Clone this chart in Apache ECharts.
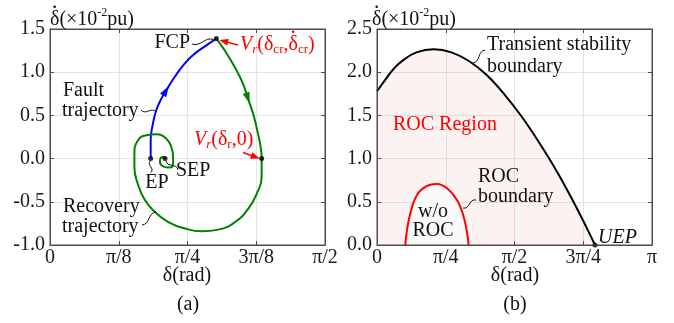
<!DOCTYPE html>
<html><head><meta charset="utf-8">
<script src="https://cdn.jsdelivr.net/npm/echarts@6/dist/echarts.min.js"></script>
<style>html,body{margin:0;padding:0;background:#fff}#c{width:674px;height:323px}</style>
</head><body><div id="c"></div>
<script>
const PI = Math.PI;
// ---------- Panel (a) ----------
const xTickLabelsA = ['0', 'π/8', 'π/4', '3π/8', 'π/2'];
const faultDelta = [0.575, 0.575, 0.588, 0.607, 0.636, 0.664, 0.712, 0.769, 0.827, 0.893, 0.950];
const faultOmega = [0, 0.212, 0.405, 0.559, 0.694, 0.790, 0.944, 1.100, 1.215, 1.311, 1.389];
const recoveryDelta = [0.950, 0.998, 1.055, 1.102, 1.131, 1.160, 1.188, 1.203, 1.209, 1.209, 1.181, 1.133, 1.057, 0.961, 0.867, 0.771, 0.676, 0.600, 0.543, 0.501, 0.482, 0.482, 0.503, 0.550, 0.607, 0.664, 0.693, 0.703, 0.703, 0.685, 0.647, 0.628, 0.634, 0.653, 0.657];
const recoveryOmega = [1.389, 1.253, 1.060, 0.868, 0.694, 0.521, 0.289, 0.134, 0, -0.213, -0.405, -0.579, -0.734, -0.822, -0.841, -0.810, -0.734, -0.618, -0.483, -0.289, -0.097, 0.058, 0.212, 0.270, 0.281, 0.231, 0.134, 0.019, -0.058, -0.104, -0.089, -0.039, 0.012, 0.019, 0];
const pointDeltaA = [0.575, 0.657, 0.950, 1.209];   // EP, SEP, FCP, Vr(δr,0)
const pointOmegaA = [0, 0, 1.389, 0];

// ---------- Panel (b) ----------
const xTickLabelsB = ['0', 'π/4', 'π/2', '3π/4', 'π'];
const boundaryDelta = [0, 0.1, 0.2, 0.3, 0.45, 0.65, 0.85, 1.05, 1.25, 1.45, 1.65, 1.85, 2.05, 2.25, 2.40, 2.49];
const boundaryOmega = [1.78, 1.92, 2.05, 2.14, 2.23, 2.265, 2.23, 2.13, 1.97, 1.75, 1.49, 1.19, 0.86, 0.49, 0.19, 0];
const rocDelta = [0.323, 0.343, 0.381, 0.457, 0.571, 0.685, 0.800, 0.914, 0.990, 1.036, 1.047];
const rocOmega = [0, 0.174, 0.367, 0.579, 0.683, 0.706, 0.656, 0.521, 0.328, 0.096, 0];
const uepDelta = [2.49];
const uepOmega = [0];

const zip = (a, b) => a.map((v, i) => [v, b[i]]);
const FONT = 'Liberation Serif';
const FS = 20;
const AX = '#4d4d4d';

function xAxisPair(gi, max, interval, labels) {
  const base = {
    type: 'value', gridIndex: gi, min: 0, max: max, interval: interval,
    axisLine: {show: true, onZero: false, lineStyle: {color: AX, width: 1}},
    axisTick: {show: true, inside: true, length: 4, lineStyle: {color: AX}},
    splitLine: {show: true, lineStyle: {color: '#e4e4e4', width: 1}}
  };
  return [
    Object.assign({}, base, {position: 'bottom',
      axisLabel: {show: true, margin: 3, fontFamily: FONT, fontSize: FS, color: '#1a1a1a',
        formatter: v => labels[Math.round(v / interval)]}}),
    Object.assign({}, base, {position: 'top', axisLabel: {show: false}, splitLine: {show: false}})
  ];
}
function yAxisPair(gi, min, max) {
  const base = {
    type: 'value', gridIndex: gi, min: min, max: max, interval: 0.5,
    axisLine: {show: true, onZero: false, lineStyle: {color: AX, width: 1}},
    axisTick: {show: true, inside: true, length: 4, lineStyle: {color: AX}},
    splitLine: {show: true, lineStyle: {color: '#e4e4e4', width: 1}}
  };
  return [
    Object.assign({}, base, {position: 'left',
      axisLabel: {show: true, margin: 5, fontFamily: FONT, fontSize: FS, color: '#1a1a1a',
        formatter: v => v.toFixed(1)}}),
    Object.assign({}, base, {position: 'right', axisLabel: {show: false}, splitLine: {show: false}})
  ];
}

const chart = echarts.init(document.getElementById('c'), null, {renderer: 'canvas'});

chart.setOption({
  animation: false,
  grid: [
    {left: 50, right: 349, top: 29, bottom: 78, show: false},
    {left: 377, right: 22, top: 29, bottom: 78, show: false}
  ],
  xAxis: [...xAxisPair(0, PI / 2, PI / 8, xTickLabelsA), ...xAxisPair(1, PI, PI / 4, xTickLabelsB)],
  yAxis: [...yAxisPair(0, -1, 1.5), ...yAxisPair(1, 0, 2.5)],
  series: [
    {type: 'line', xAxisIndex: 0, yAxisIndex: 0, data: zip(faultDelta, faultOmega), smooth: 0.5,
      showSymbol: false, lineStyle: {color: '#0000ff', width: 2}, z: 3},
    {type: 'line', xAxisIndex: 0, yAxisIndex: 0, data: zip(recoveryDelta, recoveryOmega), smooth: 0.5,
      showSymbol: false, lineStyle: {color: '#008000', width: 2}, z: 3},
    {type: 'scatter', xAxisIndex: 0, yAxisIndex: 0, symbolSize: 5, itemStyle: {color: '#000'},
      data: zip(pointDeltaA, pointOmegaA), z: 5},
    {type: 'line', xAxisIndex: 2, yAxisIndex: 2, data: zip(boundaryDelta, boundaryOmega), smooth: 0.4,
      showSymbol: false, lineStyle: {color: '#000', width: 2}, areaStyle: {color: 'rgba(238,130,130,0.15)'}, z: 3},
    {type: 'line', xAxisIndex: 2, yAxisIndex: 2, data: zip(rocDelta, rocOmega), smooth: 0.4,
      showSymbol: false, lineStyle: {color: '#ff0000', width: 2}, areaStyle: {color: '#f9f9f9', opacity: 1}, z: 4},
    {type: 'scatter', xAxisIndex: 2, yAxisIndex: 2, symbolSize: 5, itemStyle: {color: '#000'},
      data: zip(uepDelta, uepOmega), z: 5}
  ]
});

// ---------- annotations ----------
const mctx = document.createElement('canvas').getContext('2d');
function fontStr(fs, it) { return (it ? 'italic ' : '') + fs + 'px "' + FONT + '"'; }
function measure(t, fs, it) { mctx.font = fontStr(fs, it); return mctx.measureText(t).width; }
function T(x, y, text, o) {
  o = o || {};
  return {type: 'text', x: x, y: y, z: 20, style: {text: text, font: fontStr(o.fs || FS, o.it),
    fill: o.fill || '#111', align: o.align || 'left', verticalAlign: 'middle'}};
}
function seq(x, y, parts, col) {
  const out = [];
  let cx = x;
  parts.forEach(p => {
    const fs = p.fs || FS;
    out.push({type: 'text', x: cx, y: y + (p.dy || 0), z: 20,
      style: {text: p.t, font: fontStr(fs, p.it), fill: col, align: 'left', verticalAlign: 'middle'}});
    const w = measure(p.t, fs, p.it);
    if (p.dot !== undefined) {
      const dw = measure(p.t.slice(0, p.dot), fs, p.it);
      const gw = measure(p.t[p.dot], fs, p.it);
      out.push({type: 'circle', z: 21, shape: {cx: cx + dw + gw * 0.5, cy: y - fs * 0.66, r: 1.3}, style: {fill: col}});
    }
    cx += w;
  });
  return out;
}
function squiggle(x1, y1, x2, y2) {
  const dx = x2 - x1, dy = y2 - y1, L = Math.hypot(dx, dy), nx = -dy / L, ny = dx / L, a = 5;
  return {type: 'bezierCurve', z: 20, shape: {x1: x1, y1: y1, x2: x2, y2: y2,
    cpx1: x1 + dx / 3 + nx * a, cpy1: y1 + dy / 3 + ny * a, cpx2: x1 + 2 * dx / 3 - nx * a, cpy2: y1 + 2 * dy / 3 - ny * a},
    style: {stroke: '#111', lineWidth: 1, fill: null}};
}
function head(x2, y2, ux, uy, col, h, w) {
  const bx = x2 - ux * h, by = y2 - uy * h;
  return {type: 'polygon', z: 20, shape: {points: [[x2, y2], [bx - uy * w, by + ux * w], [bx + uy * w, by - ux * w]]}, style: {fill: col}};
}
function arrow(x1, y1, x2, y2, col) {
  const dx = x2 - x1, dy = y2 - y1, L = Math.hypot(dx, dy), ux = dx / L, uy = dy / L;
  return [
    {type: 'line', z: 20, shape: {x1: x1, y1: y1, x2: x2 - ux * 7, y2: y2 - uy * 7}, style: {stroke: col, lineWidth: 1.5}},
    head(x2, y2, ux, uy, col, 9, 3.5)
  ];
}
const toPx = (d, w) => chart.convertToPixel({xAxisIndex: 0, yAxisIndex: 0}, [d, w]);
function curveArrow(dArr, wArr, i, col) {
  const a = toPx(dArr[i - 1], wArr[i - 1]), b = toPx(dArr[i + 1], wArr[i + 1]), m = toPx(dArr[i], wArr[i]);
  const dx = b[0] - a[0], dy = b[1] - a[1], L = Math.hypot(dx, dy), ux = dx / L, uy = dy / L;
  return head(m[0] + ux * 5, m[1] + uy * 5, ux, uy, col, 11, 3.6);
}
const pA = i => toPx(pointDeltaA[i], pointOmegaA[i]);
const ep = pA(0), sep = pA(1), fcp = pA(2), vr = pA(3);
const RED = '#ff0000';
const graphics = [
  ...seq(50, 20, [{t: 'δ(×10', dot: 0}, {t: '-2', fs: 12, dy: -7}, {t: 'pu)'}], '#111'),
  ...seq(372, 20, [{t: 'δ(×10', dot: 0}, {t: '-2', fs: 12, dy: -7}, {t: 'pu)'}], '#111'),
  curveArrow(faultDelta, faultOmega, 5, '#0000ff'),
  curveArrow(recoveryDelta, recoveryOmega, 4, '#008000'),
  T(190, 43, 'FCP', {align: 'right'}),
  squiggle(192, 44, fcp[0] - 3, fcp[1] + 1),
  ...seq(240, 45, [{t: 'V', it: true}, {t: 'r', it: true, fs: 13, dy: 5}, {t: '(δ'}, {t: 'cr', fs: 13, dy: 5}, {t: ',δ', dot: 1}, {t: 'cr', fs: 13, dy: 5}, {t: ')'}], RED),
  ...arrow(238, 45, fcp[0] + 3, fcp[1] + 1.5, RED),
  T(63, 91, 'Fault'), T(62, 111, 'trajectory'),
  squiggle(141, 110, 156, 112),
  ...seq(194, 140, [{t: 'V', it: true}, {t: 'r', it: true, fs: 13, dy: 5}, {t: '(δ'}, {t: 'r', fs: 13, dy: 5}, {t: ',0)'}], RED),
  ...arrow(243, 152.5, vr[0] - 2, vr[1], RED),
  squiggle(ep[0], ep[1] + 2, ep[0], ep[1] + 14),
  T(157, 183, 'EP', {align: 'center'}),
  squiggle(sep[0] + 1, sep[1] + 2, 178, 170),
  T(176, 171, 'SEP'),
  T(63, 207, 'Recovery'), T(62, 227, 'trajectory'),
  squiggle(142, 225, 156, 212),
  T(187, 276, 'δ(rad)', {align: 'center'}),
  T(188, 305, '(a)', {align: 'center'}),
  T(487, 45, 'Transient stability'), T(487, 67, 'boundary'),
  squiggle(485, 50, 473, 63),
  T(393, 125, 'ROC Region', {fill: RED}),
  T(478, 177, 'ROC'), T(478, 197, 'boundary'),
  squiggle(476, 200, 463, 208),
  T(433, 212, 'w/o', {align: 'center'}), T(433, 231, 'ROC', {align: 'center'}),
  T(598, 238, 'UEP', {it: true}),
  T(515, 276, 'δ(rad)', {align: 'center'}),
  T(515, 305, '(b)', {align: 'center'}),
  {type: 'rect', z: 19, shape: {x: 50, y: 29, width: 275, height: 216}, style: {stroke: AX, fill: null, lineWidth: 1}},
  {type: 'rect', z: 19, shape: {x: 377, y: 29, width: 275, height: 216}, style: {stroke: AX, fill: null, lineWidth: 1}}
];
chart.setOption({graphic: graphics});
</script></body></html>
